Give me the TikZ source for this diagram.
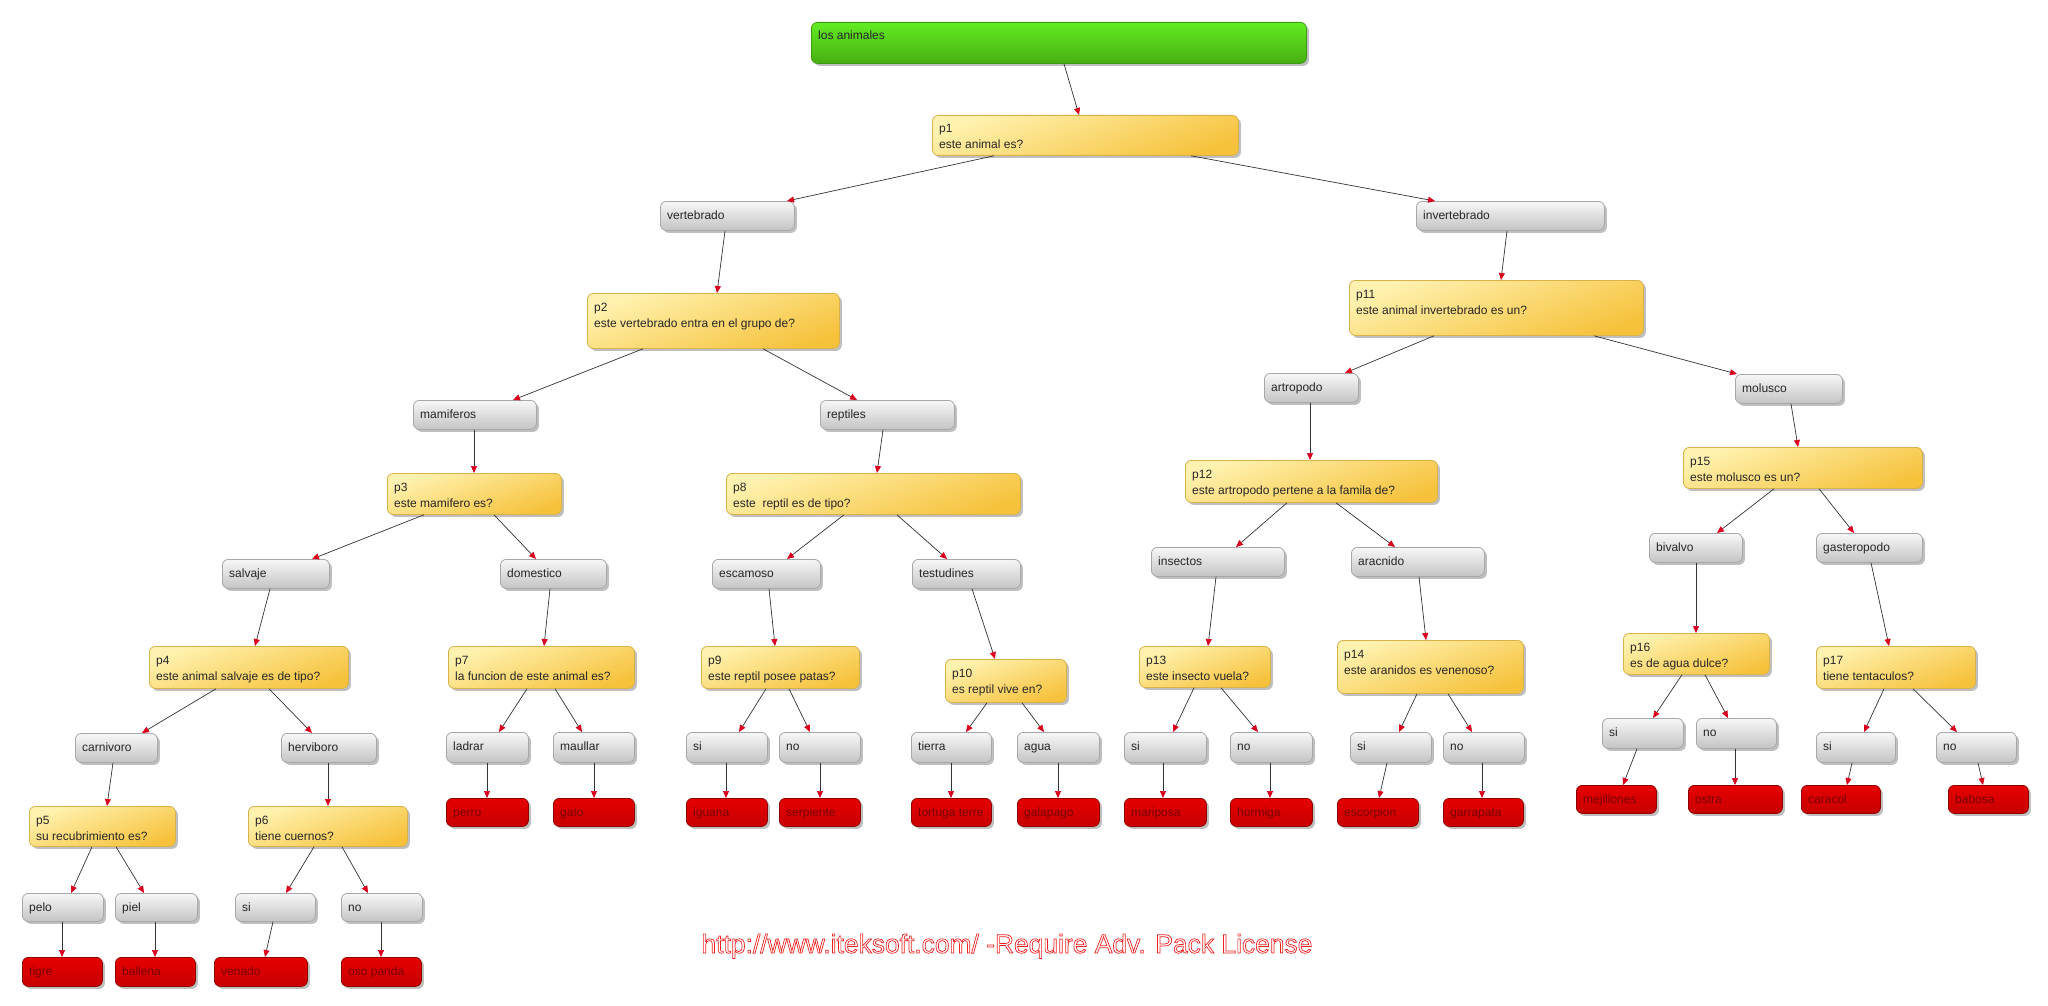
\documentclass[tikz,border=0pt]{standalone}
\usepackage{fontspec}
\setmainfont{Liberation Sans}
\usetikzlibrary{arrows.meta,shadows}
\definecolor{gtop}{HTML}{F7F7F7}
\definecolor{gbot}{HTML}{C4C4C4}
\definecolor{gdraw}{HTML}{A8A8A8}
\definecolor{ytop}{HTML}{FFF2B0}
\definecolor{ybot}{HTML}{F6C23C}
\definecolor{ydraw}{HTML}{D9B24A}
\definecolor{rtop}{HTML}{E60000}
\definecolor{rbot}{HTML}{C80000}
\definecolor{rdraw}{HTML}{8E0000}
\definecolor{rtext}{HTML}{7A0000}
\definecolor{grtop}{HTML}{62EC22}
\definecolor{grbot}{HTML}{47AE12}
\definecolor{grdraw}{HTML}{3C9A10}
\definecolor{arrowred}{HTML}{D8001C}
\definecolor{wmred}{HTML}{F02020}
\newcommand\twoline[2]{\vtop{\baselineskip=16pt\hbox{#1}\hbox{#2}}}
\newcommand\bx[7]{%
  \node[#2, minimum width={(#5-#3)*1pt}, minimum height={(#6-#4)*1pt}, anchor=north west, inner sep=0pt] (#1) at (#3,#4) {};
  \node[txt, anchor=base west] (#1t) at ({#3+7},{#4+18}) {#7};}
\newcommand\E[4]{\draw[arr] (#2,0 |- #1.south) -- (#4,0 |- #3.north);}
\tikzset{
  shad/.style={drop shadow={shadow xshift=2.5pt,shadow yshift=-2.5pt,opacity=.45,fill=black!55}},
  gbox/.style={shad, rounded corners=6pt, draw=gdraw, line width=0.8pt, top color=gtop, bottom color=gbot},
  ybox/.style={shad, rounded corners=6pt, draw=ydraw, line width=0.8pt, top color=ytop, bottom color=ybot, shading angle=20},
  rbox/.style={shad, rounded corners=6pt, draw=rdraw, line width=0.8pt, top color=rtop, bottom color=rbot},
  grbox/.style={shad, rounded corners=6pt, draw=grdraw, line width=0.8pt, top color=grtop, bottom color=grbot},
  txt/.style={inner sep=0pt, font=\fontsize{12}{16}\selectfont, text=black!85},
  arr/.style={draw=black!80, line width=0.7pt, -{Triangle[length=7pt,width=6pt,color=arrowred]}},
}
\begin{document}
\begin{tikzpicture}[x=1pt,y=-1pt]
\useasboundingbox[fill=white] (0,0) rectangle (2048,1006);
% level 0-1
\bx{root}{grbox}{811}{22}{1306}{63}{los animales}
\bx{p1}{ybox}{932}{115}{1238}{155}{\twoline{p1}{este animal es?}}
\bx{vert}{gbox}{660}{201}{794}{230}{vertebrado}
\bx{invert}{gbox}{1416}{201}{1604}{230}{invertebrado}
\bx{p2}{ybox}{587}{293}{839}{348}{\twoline{p2}{este vertebrado entra en el grupo de?}}
\bx{mam}{gbox}{413}{400}{536}{429}{mamiferos}
\bx{rep}{gbox}{820}{400}{954}{429}{reptiles}
\bx{p11}{ybox}{1349}{280}{1643}{335}{\twoline{p11}{este animal invertebrado es un?}}
\bx{art}{gbox}{1264}{373}{1358}{402}{artropodo}
\bx{mol}{gbox}{1735}{374}{1842}{403}{molusco}
\bx{p3}{ybox}{387}{473}{561}{514}{\twoline{p3}{este mamifero es?}}
\bx{p8}{ybox}{726}{473}{1020}{514}{\twoline{p8}{este \ reptil es de tipo?}}
\bx{p12}{ybox}{1185}{460}{1437}{502}{\twoline{p12}{este artropodo pertene a la famila de?}}
\bx{p15}{ybox}{1683}{447}{1922}{488}{\twoline{p15}{este molusco es un?}}
\bx{salv}{gbox}{222}{559}{329}{588}{salvaje}
\bx{dom}{gbox}{500}{559}{606}{588}{domestico}
\bx{esc}{gbox}{712}{559}{820}{588}{escamoso}
\bx{test}{gbox}{912}{559}{1020}{588}{testudines}
\bx{ins}{gbox}{1151}{547}{1284}{576}{insectos}
\bx{arac}{gbox}{1351}{547}{1484}{576}{aracnido}
\bx{biv}{gbox}{1649}{533}{1742}{562}{bivalvo}
\bx{gast}{gbox}{1816}{533}{1922}{562}{gasteropodo}
\bx{p4}{ybox}{149}{646}{348}{688}{\twoline{p4}{este animal salvaje es de tipo?}}
\bx{p7}{ybox}{448}{646}{634}{688}{\twoline{p7}{la funcion de este animal es?}}
\bx{p9}{ybox}{701}{646}{859}{688}{\twoline{p9}{este reptil posee patas?}}
\bx{p10}{ybox}{945}{659}{1066}{702}{\twoline{p10}{es reptil vive en?}}
\bx{p13}{ybox}{1139}{646}{1270}{687}{\twoline{p13}{este insecto vuela?}}
\bx{p14}{ybox}{1337}{640}{1523}{693}{\twoline{p14}{este aranidos es venenoso?}}
\bx{p16}{ybox}{1623}{633}{1769}{674}{\twoline{p16}{es de agua dulce?}}
\bx{p17}{ybox}{1816}{646}{1975}{688}{\twoline{p17}{tiene tentaculos?}}
% answer row
\bx{carn}{gbox}{75}{733}{157}{762}{carnivoro}
\bx{herb}{gbox}{281}{733}{376}{762}{herviboro}
\bx{ladrar}{gbox}{446}{732}{528}{762}{ladrar}
\bx{maullar}{gbox}{553}{732}{634}{762}{maullar}
\bx{siA}{gbox}{686}{732}{767}{762}{si}
\bx{noA}{gbox}{779}{732}{860}{762}{no}
\bx{tierra}{gbox}{911}{732}{991}{762}{tierra}
\bx{agua}{gbox}{1017}{732}{1099}{762}{agua}
\bx{siB}{gbox}{1124}{732}{1206}{762}{si}
\bx{noB}{gbox}{1230}{732}{1312}{762}{no}
\bx{siC}{gbox}{1350}{732}{1431}{762}{si}
\bx{noC}{gbox}{1443}{732}{1524}{762}{no}
\bx{siD}{gbox}{1602}{718}{1683}{748}{si}
\bx{noD}{gbox}{1696}{718}{1776}{748}{no}
\bx{siE}{gbox}{1816}{732}{1895}{762}{si}
\bx{noE}{gbox}{1936}{732}{2016}{762}{no}
% red leaves
\tikzset{txt/.append style={text=rtext}}
\bx{perro}{rbox}{446}{798}{528}{826}{perro}
\bx{gato}{rbox}{553}{798}{634}{826}{gato}
\bx{iguana}{rbox}{686}{798}{767}{826}{iguana}
\bx{serp}{rbox}{779}{798}{860}{826}{serpiente}
\bx{tort}{rbox}{911}{798}{991}{826}{tortuga terre}
\bx{gal}{rbox}{1017}{798}{1099}{826}{galapago}
\bx{mari}{rbox}{1124}{798}{1206}{826}{mariposa}
\bx{horm}{rbox}{1230}{798}{1312}{826}{hormiga}
\bx{escor}{rbox}{1337}{798}{1418}{826}{escorpion}
\bx{garr}{rbox}{1443}{798}{1523}{826}{garrapata}
\bx{mej}{rbox}{1576}{785}{1656}{813}{mejillones}
\bx{ostra}{rbox}{1688}{785}{1782}{813}{ostra}
\bx{car}{rbox}{1801}{785}{1880}{813}{caracol}
\bx{bab}{rbox}{1948}{785}{2028}{813}{babosa}
\bx{tigre}{rbox}{22}{957}{102}{986}{tigre}
\bx{ball}{rbox}{115}{957}{195}{986}{ballena}
\bx{ven}{rbox}{214}{957}{307}{986}{venado}
\bx{oso}{rbox}{341}{957}{421}{986}{oso panda}
\tikzset{txt/.append style={text=black!85}}
% bottom-left
\bx{p5}{ybox}{29}{806}{175}{846}{\twoline{p5}{su recubrimiento es?}}
\bx{p6}{ybox}{248}{806}{407}{846}{\twoline{p6}{tiene cuernos?}}
\bx{pelo}{gbox}{22}{893}{103}{921}{pelo}
\bx{piel}{gbox}{115}{893}{197}{921}{piel}
\bx{siF}{gbox}{235}{893}{315}{921}{si}
\bx{noF}{gbox}{341}{893}{422}{921}{no}
% edges
\E{root}{1064}{p1}{1079}
\E{p1}{994}{vert}{787}
\E{p1}{1191}{invert}{1435}
\E{vert}{725}{p2}{717}
\E{p2}{643}{mam}{513}
\E{p2}{763}{rep}{857}
\E{mam}{474}{p3}{474}
\E{rep}{883}{p8}{877}
\E{invert}{1507}{p11}{1501}
\E{p11}{1434}{art}{1345}
\E{p11}{1594}{mol}{1737}
\E{art}{1310}{p12}{1310}
\E{mol}{1791}{p15}{1798}
\E{p3}{424}{salv}{312}
\E{p3}{494}{dom}{536}
\E{p8}{844}{esc}{787}
\E{p8}{897}{test}{947}
\E{salv}{270}{p4}{255}
\E{dom}{550}{p7}{544}
\E{esc}{769}{p9}{775}
\E{test}{972}{p10}{995}
\E{p4}{216}{carn}{142}
\E{p4}{269}{herb}{312}
\E{p7}{527}{ladrar}{499}
\E{p7}{555}{maullar}{582}
\E{p9}{766}{siA}{739}
\E{p9}{789}{noA}{810}
\E{p10}{987}{tierra}{966}
\E{p10}{1022}{agua}{1044}
\E{p12}{1287}{ins}{1236}
\E{p12}{1336}{arac}{1395}
\E{p15}{1774}{biv}{1717}
\E{p15}{1819}{gast}{1854}
\E{ins}{1216}{p13}{1208}
\E{arac}{1419}{p14}{1426}
\E{biv}{1696}{p16}{1696}
\E{gast}{1871}{p17}{1889}
\E{p13}{1194}{siB}{1173}
\E{p13}{1221}{noB}{1258}
\E{p14}{1417}{siC}{1399}
\E{p14}{1448}{noC}{1472}
\E{p16}{1682}{siD}{1653}
\E{p16}{1705}{noD}{1728}
\E{p17}{1884}{siE}{1864}
\E{p17}{1913}{noE}{1957}
\E{ladrar}{487}{perro}{487}
\E{maullar}{594}{gato}{594}
\E{siA}{726}{iguana}{726}
\E{noA}{820}{serp}{820}
\E{tierra}{951}{tort}{951}
\E{agua}{1058}{gal}{1058}
\E{siB}{1163}{mari}{1163}
\E{noB}{1270}{horm}{1270}
\E{siC}{1387}{escor}{1379}
\E{noC}{1482}{garr}{1482}
\E{siD}{1637}{mej}{1623}
\E{noD}{1735}{ostra}{1735}
\E{siE}{1852}{car}{1847}
\E{noE}{1978}{bab}{1983}
\E{carn}{113}{p5}{107}
\E{herb}{328}{p6}{328}
\E{p5}{92}{pelo}{71}
\E{p5}{116}{piel}{144}
\E{p6}{314}{siF}{286}
\E{p6}{342}{noF}{368}
\E{pelo}{62}{tigre}{62}
\E{piel}{155}{ball}{155}
\E{siF}{273}{ven}{265}
\E{noF}{381}{oso}{381}
% watermark
\node[inner sep=0pt, anchor=base, text=wmred, font=\fontsize{26.4}{30}\selectfont] (wm) at (1007,953)
  {\special{pdf:code 1 Tr 0.7 w}http://www.iteksoft.com/ -Require Adv. Pack License\special{pdf:code 0 Tr}};
\end{tikzpicture}
\end{document}
